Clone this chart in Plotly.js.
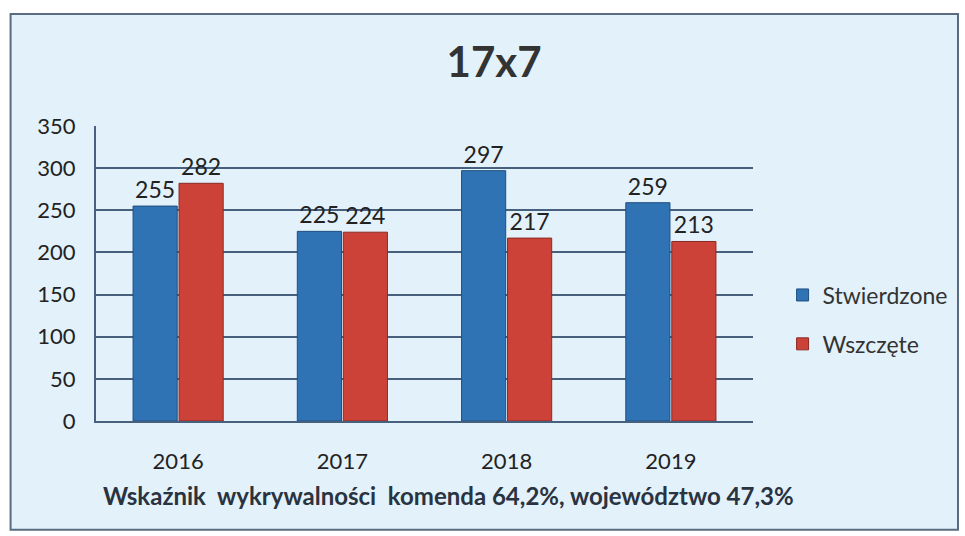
<!DOCTYPE html>
<html><head><meta charset="utf-8">
<script src="https://cdn.plot.ly/plotly-3.0.1.min.js"></script>
<style>html,body{margin:0;padding:0;background:#fff;}#chart{width:965px;height:536px;}</style>
</head><body><div id="chart"></div>
<script>
const years = ['2016', '2017', '2018', '2019'];
const stwierdzone = [255, 225, 297, 259];
const wszczete = [282, 224, 217, 213];
const seriesNames = ['Stwierdzone', 'Wszczęte'];
const chartTitle = '17x7';
const footnote = 'Wskaźnik  wykrywalności  komenda 64,2%, województwo 47,3%';
const yTicks = [0, 50, 100, 150, 200, 250, 300, 350];

const font = 'Lato, "Open Sans", sans-serif';
const traces = [
  {type:'bar', x:years, y:stwierdzone, name:seriesNames[0], legendgroup:'g1',
   marker:{color:'#2f73b4', line:{color:'#1f4f80', width:1}},
   text:stwierdzone.map(String), textposition:'outside', cliponaxis:false,
   textfont:{size:23, color:'#222', family:font}},
  {type:'bar', x:years, y:wszczete, name:seriesNames[1], legendgroup:'g2',
   marker:{color:'#cc4238', line:{color:'#8a2a24', width:1}},
   text:wszczete.map(String), textposition:'outside', cliponaxis:false,
   textfont:{size:23, color:'#222', family:font}}
];
const layout = {
  width:965, height:536,
  margin:{l:96, r:209, t:126, b:115},
  paper_bgcolor:'rgba(0,0,0,0)', plot_bgcolor:'#ffffff',
  font:{family:font, color:'#333'},
  title:{text:'<b>'+chartTitle+'</b>', x:0.512, xanchor:'center', y:0.884, yanchor:'middle',
         font:{size:42, color:'#333', family:font}},
  barmode:'group', bargap:0.44, bargroupgap:0.04,
  xaxis:{type:'category', showgrid:false, showline:true, linecolor:'#46607e', linewidth:2,
         ticks:'', tickfont:{size:22, color:'#222'}, ticklabelstandoff:20},
  yaxis:{range:[0,350], tickvals:yTicks, showgrid:true, gridcolor:'#46607e', gridwidth:2,
         showline:true, linecolor:'#46607e', linewidth:2, zeroline:false,
         ticks:'', tickfont:{size:22, color:'#222'}, ticklabelstandoff:14},
  showlegend:true,
  legend:{x:1.045, y:0.50, xanchor:'left', yanchor:'top', font:{size:23, color:'#333'},
          bgcolor:'rgba(0,0,0,0)', traceorder:'grouped', tracegroupgap:16, itemwidth:30},
  shapes:[{type:'rect', xref:'paper', yref:'paper', x0:-0.13, x1:1.312, y0:-0.369, y1:1.38,
           fillcolor:'#e2f1fa', line:{color:'#5a6c80', width:2}, layer:'below'}],
  annotations:[{xref:'paper', yref:'paper', x:0.536, y:-0.251, xanchor:'center', yanchor:'middle',
                text:'<b>'+footnote+'</b>', showarrow:false, font:{size:24, color:'#2a3340', family:font}}]
};
Plotly.newPlot('chart', traces, layout, {displayModeBar:false, staticPlot:true});
</script></body></html>
